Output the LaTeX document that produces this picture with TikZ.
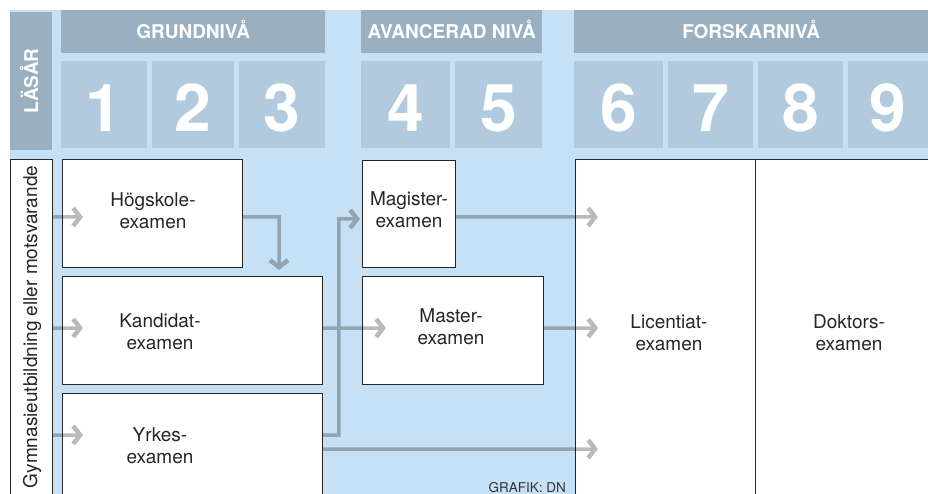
\documentclass[tikz,border=0pt]{standalone}
\usepackage{fontspec}
\setmainfont{TeX Gyre Heros}
\usetikzlibrary{arrows.meta}
\definecolor{skyblue}{HTML}{C6E1F5}
\definecolor{bandgray}{HTML}{9AAFC0}
\definecolor{cellblue}{HTML}{B1CADD}
\tikzset{
  band/.style={fill=bandgray, text=white, font=\fontsize{19}{21}\selectfont\bfseries, anchor=north west, inner sep=0pt, text height=14pt, text depth=0pt},
  yearcell/.style={fill=cellblue, text=white, font=\fontsize{66}{70}\selectfont\bfseries, anchor=north west, inner sep=0pt, text height=53pt, text depth=0pt, minimum height=87pt},
  exbox/.style={draw=black!85, line width=0.8pt, fill=white, anchor=north west, inner sep=0pt},
  extext/.style={align=center, font=\fontsize{19}{22}\selectfont, text=black!85, inner sep=0pt},
  flow/.style={line width=3.5pt, -{Straight Barb[length=7pt,width=18pt,line width=4.5pt,sharp]}}
}
\begin{document}
\begin{tikzpicture}[x=1pt,y=-1pt]
\useasboundingbox (0,0) rectangle (928,494);
\fill[white] (0,0) rectangle (928,494);
\fill[skyblue] (10,10) rectangle (928,494);
\node[band, rotate=90, anchor=center, minimum width=138pt, minimum height=42pt] (lasar) at (31,81) {LÄSÅR};
\node[band, minimum width=264pt, minimum height=43pt] (grund) at (61,10) {GRUNDNIVÅ};
\node[band, minimum width=181pt, minimum height=43pt] (avanc) at (361,10) {AVANCERAD NIVÅ};
\node[band, minimum width=354pt, minimum height=43pt] (forsk) at (574,10) {FORSKARNIVÅ};
\foreach \n/\xa/\xb in {1/61/147,2/152/234,3/239/325,4/361/450,5/455/542,6/574/663,7/668/753,8/758/843,9/848/928} {
  \node[yearcell, minimum width=\xb pt-\xa pt] (year\n) at (\xa,61) {\n};
}
\node[exbox, minimum width=42pt, minimum height=345pt] (gym) at (10,159) {};
\node[extext, rotate=90] (gymtxt) at (32,327) {Gymnasieutbildning eller motsvarande};
\node[exbox, minimum width=180pt, minimum height=108pt] (hog) at (62,159) {};
\node[exbox, minimum width=260pt, minimum height=108pt] (kand) at (62,276) {};
\node[exbox, minimum width=260pt, minimum height=115pt] (yrk) at (62,393) {};
\node[exbox, minimum width=93pt, minimum height=107pt] (mag) at (362,160) {};
\node[exbox, minimum width=181pt, minimum height=108pt] (mast) at (362,276) {};
\node[exbox, minimum width=180pt, minimum height=345pt] (lic) at (575,159) {};
\node[exbox, minimum width=180pt, minimum height=345pt] (dok) at (755,159) {};
\foreach \nm/\cx/\cy/\first in {hog/153/211/Högskole-,kand/160/332/Kandidat-,yrk/160/446/Yrkes-,mag/409/210/Magister-,mast/451/327/Master-,lic/669/333/Licentiat-,dok/849/333/Doktors-} {
  \node[extext] (\nm txt) at (\cx,\cy) {\first\\examen};
}
\coordinate (g1) at (83,217);
\coordinate (g2) at (83,328);
\coordinate (g3) at (83,435);
\coordinate (hk) at (279,270);
\coordinate (km) at (386,328);
\coordinate (ym) at (360,219);
\coordinate (l1) at (598,217);
\coordinate (l2) at (598,328);
\coordinate (l3) at (598,449);
\begin{scope}[transparency group, opacity=0.27]
\draw[flow] (gym.east |- g1) -- (g1);
\draw[flow] (gym.east |- g2) -- (g2);
\draw[flow] (gym.east |- g3) -- (g3);
\draw[flow] (hog.east |- g1) -| (hk);
\draw[flow] (kand.east |- km) -- (km);
\draw[flow] (yrk.east |- g3) -- ++(16,0) |- (ym);
\draw[flow] (mag.east |- l1) -- (l1);
\draw[flow] (mast.east |- l2) -- (l2);
\draw[flow] (yrk.east |- l3) -- (l3);
\end{scope}
\node[font=\fontsize{13.5}{15}\selectfont, text=black!80, anchor=base east, inner sep=0pt] (credit) at (566,492) {GRAFIK: DN};
\end{tikzpicture}
\end{document}
